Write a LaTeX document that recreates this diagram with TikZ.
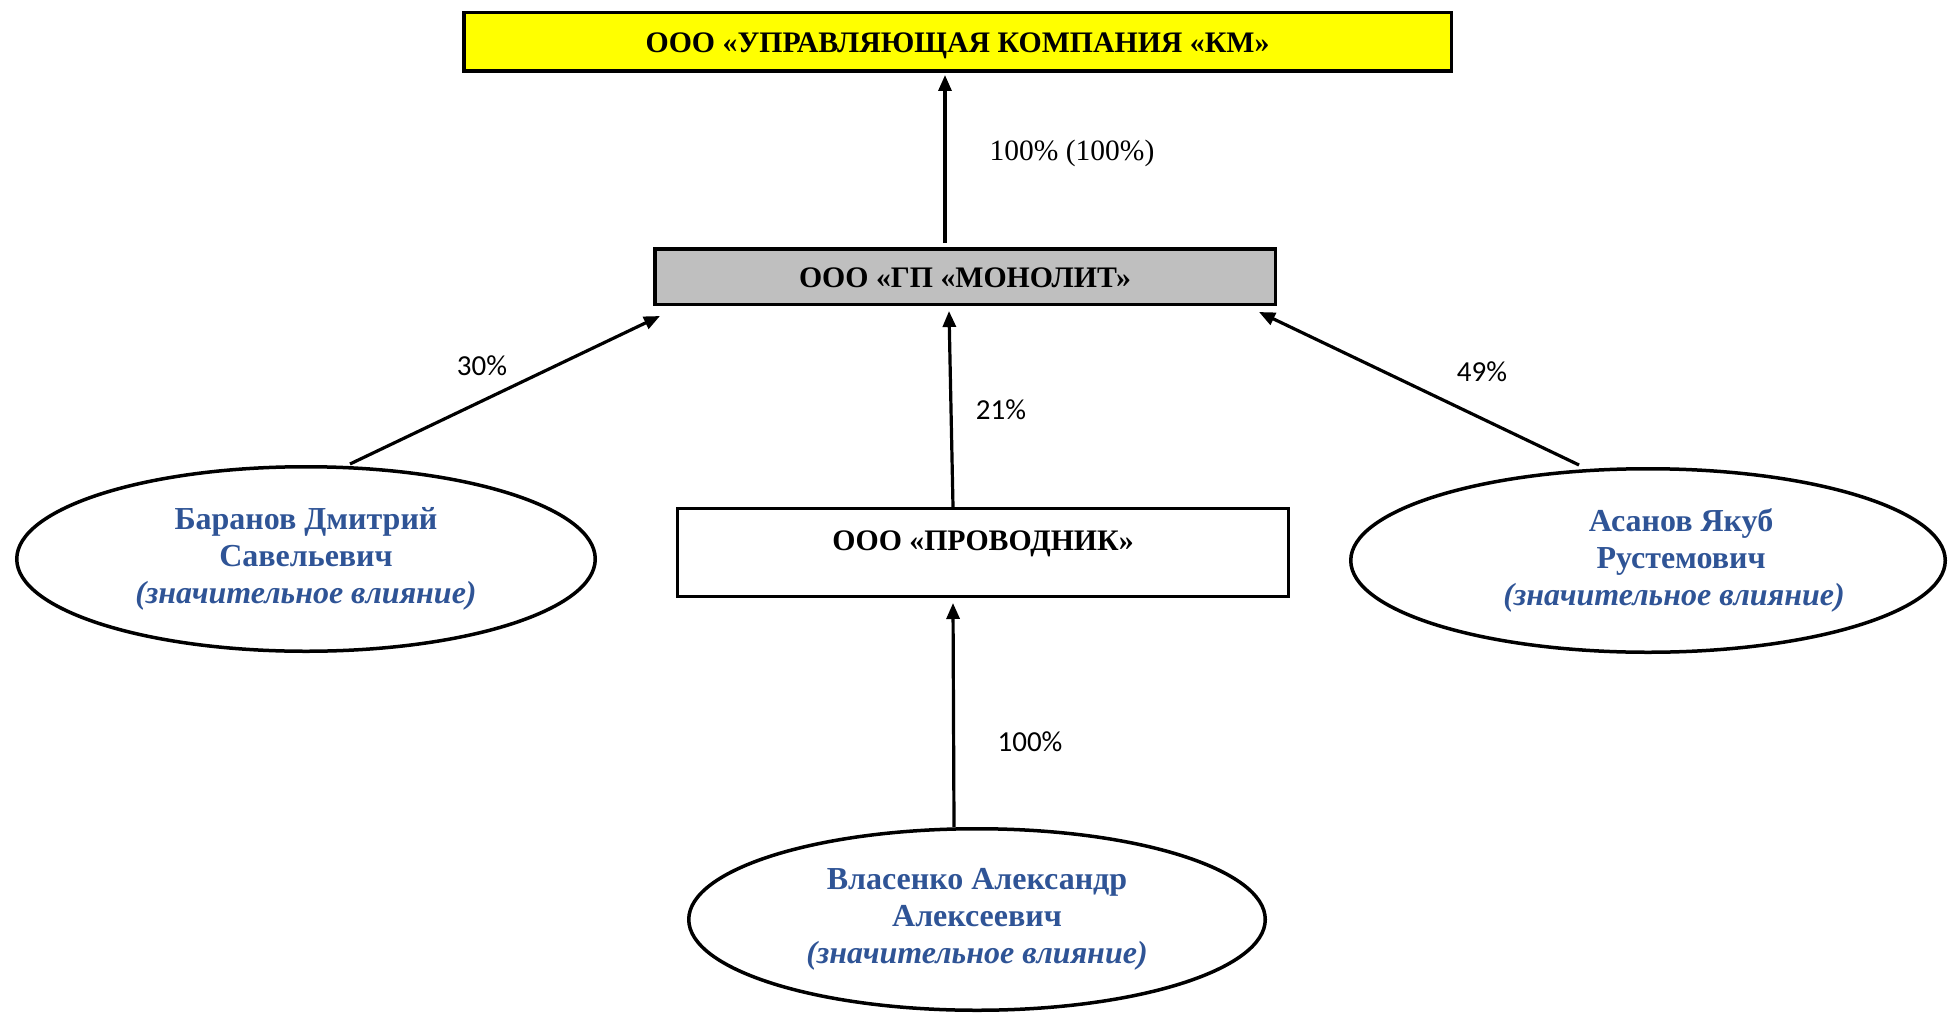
\documentclass[tikz,border=0pt]{standalone}
\usepackage{fontspec}
\setmainfont{Liberation Serif}
\newfontfamily\labelfont{Carlito}
\usetikzlibrary{shapes.geometric,arrows.meta,calc}
\definecolor{topyellow}{RGB}{255,255,0}
\definecolor{boxgray}{RGB}{191,191,191}
\definecolor{nameblue}{RGB}{47,84,150}
\begin{document}
\begin{tikzpicture}[x=1pt,y=-1pt,
  company/.style={draw=black, line width=3.5pt, inner sep=0pt, font=\fontsize{29.8}{34}\selectfont\bfseries},
  person/.style={ellipse, draw=black, line width=3.5pt, inner sep=0pt, align=center, text=nameblue, font=\fontsize{32}{37}\selectfont\bfseries},
  arr/.style={-{Triangle[length=16pt,width=13pt]}, line width=3.2pt},
  pct/.style={font=\labelfont\fontsize{29}{32}\selectfont},
  pctserif/.style={font=\fontsize{29.5}{32}\selectfont},
]
\useasboundingbox (0,0) rectangle (1948,1014);
\fill[white] (0,0) rectangle (1948,1014);

\node[company, fill=topyellow, minimum width=987.5pt, minimum height=58.5pt, text height=25pt, text depth=4pt] (km) at (957.5,42) {ООО «УПРАВЛЯЮЩАЯ КОМПАНИЯ «КМ»};
\node[company, fill=boxgray, minimum width=620.5pt, minimum height=55.5pt, text height=25pt, text depth=4pt] (mono) at (965,276.5) {ООО «ГП «МОНОЛИТ»};
\node[company, line width=3pt, fill=white, minimum width=611pt, minimum height=88pt, text height=21pt, text depth=26pt] (prov) at (983,552.5) {ООО «ПРОВОДНИК»};

\node[person, minimum width=578.5pt, minimum height=184.5pt] (bar) at (306,559) {Баранов Дмитрий\\Савельевич\\{\itshape (значительное влияние)}};
\node[person, minimum width=594.5pt, minimum height=183.5pt] (asan) at (1648,560.5) {\hspace*{66pt}Асанов Якуб\\\hspace*{66pt}Рустемович\\\hspace*{52pt}{\itshape (значительное влияние)}};
\node[person, minimum width=576.5pt, minimum height=181.5pt] (vlas) at (977,919.5) {Власенко Александр\\Алексеевич\\{\itshape (значительное влияние)}};

\draw[arr] ($(mono.north)+(-20,-4)$) -- ($(km.south)+(-12.5,2)$);
\draw[arr] ($(bar.north)+(44,-1)$) -- ($(mono.south west)+(7,10)$);
\draw[arr] ($(prov.north)+(-30,0)$) -- ($(mono.south)+(-16,5)$);
\draw[arr] ($(asan.north)+(-69,-2)$) -- ($(mono.south east)+(-18,6)$);
\draw[arr] ($(vlas.north)+(-23,0)$) -- ($(prov.south)+(-30,5)$);

\node[pctserif] (l100b) at (1072,153) {100\% (100\%)};
\node[pct] (l30) at (482,366) {30\%};
\node[pct] (l21) at (1001,410) {21\%};
\node[pct] (l49) at (1482,372) {49\%};
\node[pct] (l100) at (1030,742) {100\%};
\end{tikzpicture}
\end{document}
